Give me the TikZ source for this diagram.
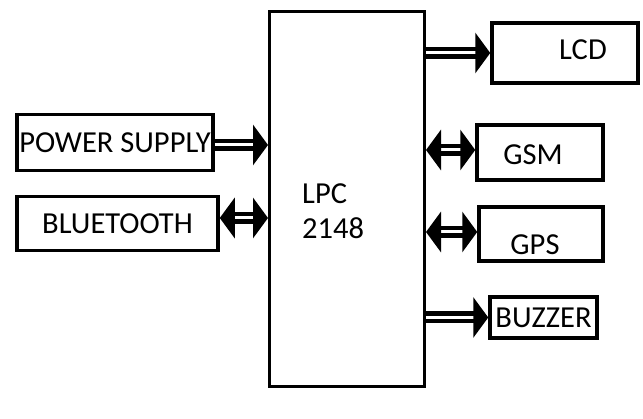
\documentclass[tikz,border=0pt]{standalone}
\usepackage{fontspec}
\setmainfont{Carlito}
\usepackage{tikz}
\usetikzlibrary{arrows.meta, positioning, calc}
\tikzset{
  block/.style={rectangle, draw=black, fill=white, line width=3.5pt,
    inner sep=0pt, font=\fontsize{30.5}{35}\selectfont},
  mcu/.style={rectangle, draw=black, fill=white, line width=3pt, inner sep=0pt},
  txt/.style={font=\fontsize{30.5}{35}\selectfont, inner sep=0pt},
  bus/.style={draw=black, double=white, double distance=3pt, line width=4.5pt,
    -{Triangle[width=40pt, length=15pt]}},
  busboth/.style={bus, {Triangle[width=40pt, length=15pt]}-{Triangle[width=40pt, length=15pt]}}
}

\begin{document}
\begin{tikzpicture}[x=1pt, y=1pt]
  \useasboundingbox (0,0) rectangle (643,419);

  % Controller
  \node[mcu, minimum width=155pt, minimum height=375pt] (lpc) at (347,220) {};
  \node[txt, align=left, anchor=west] (lpclbl) at (302,208) {LPC\\2148};

  % Left side blocks
  \node[block, minimum width=196pt, minimum height=56pt] (ps) at (115,276.5) {POWER SUPPLY};
  \node[block, minimum width=201pt, minimum height=54pt] (bt) at (117.5,195.5) {BLUETOOTH};

  % Right side blocks
  \node[block, minimum width=146pt, minimum height=60pt] (lcd) at (565,366) {};
  \node[txt] (lcdlbl) at (583,369) {LCD};
  \node[block, minimum width=126pt, minimum height=55pt] (gsm) at (540,266.5) {};
  \node[txt] (gsmlbl) at (533,264) {GSM};
  \node[block, minimum width=124pt, minimum height=54pt] (gps) at (541,185) {};
  \node[txt] (gpslbl) at (535,174) {GPS};
  \node[block, minimum width=107pt, minimum height=41pt] (buz) at (543.5,101.5) {BUZZER};

  % Links
  \draw[bus] ([yshift=-2.5pt]ps.east) -- ([yshift=-2.5pt]ps.east -| lpc.west);
  \draw[busboth] ([yshift=5.5pt]bt.east) -- ([yshift=5.5pt]bt.east -| lpc.west);
  \draw[bus] (lcd.west -| lpc.east) -- (lcd.west);
  \draw[busboth] ([yshift=2.5pt]gsm.west -| lpc.east) -- ([yshift=2.5pt]gsm.west);
  \draw[busboth] ([yshift=2pt]gps.west -| lpc.east) -- ([yshift=2pt]gps.west);
  \draw[bus] (buz.west -| lpc.east) -- (buz.west);
\end{tikzpicture}
\end{document}
